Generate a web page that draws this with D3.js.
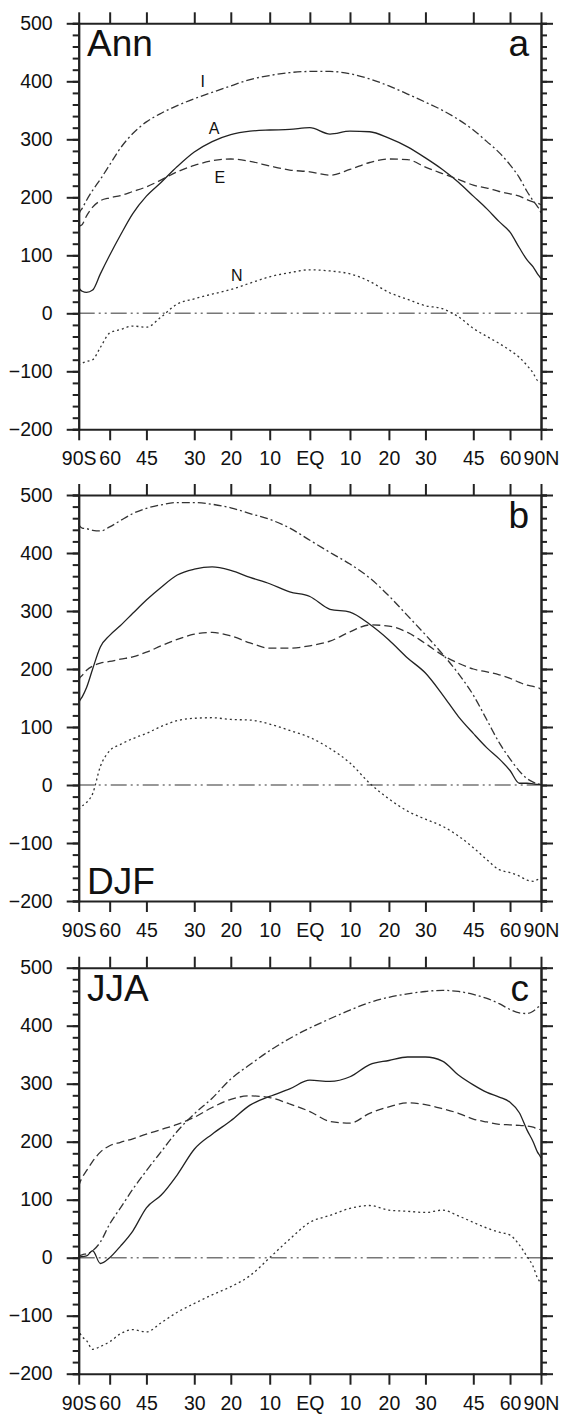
<!DOCTYPE html>
<html>
<head>
<meta charset="utf-8">
<script src="https://cdn.jsdelivr.net/npm/d3@7"></script>
<style>
body { margin: 0; background: #fff; }
text { font-family: "Liberation Sans", Arial, sans-serif; fill: #111; }
</style>
</head>
<body>
<div id="graph"></div>
<script>
// latitude grid (degrees), every curve below is sampled on it
const lats = [-90,-85,-80,-75,-70,-65,-60,-55,-50,-45,-40,-35,-30,-25,-20,-15,-10,-5,0,
              5,10,15,20,25,30,35,40,45,50,55,60,65,70,75,80,85,90];

// panel a : annual mean
const annI = [170,174,181,195,212,231,256,285,310,330,345,358,370,381,392,403,410,415,417,417,413,404,392,378,364,350,334,316,296,277,256,234,210,194,184,177,172];
const annA = [55,42,38,36,40,68,100,135,172,202,226,253,278,296,308,314,316,317,320,309,314,313,302,287,268,248,226,202,180,158,140,113,92,80,68,62,60];
const annE = [148,150,153,168,183,194,199,203,210,218,230,244,255,263,266,262,254,247,244,238,248,260,266,265,252,241,231,221,216,210,206,202,196,192,190,188,187];
const annN = [-90,-88,-86,-83,-80,-59,-34,-28,-22,-24,-6,16,25,33,41,52,63,70,75,73,68,55,36,24,13,8,-6,-26,-40,-52,-64,-76,-90,-103,-116,-118,-120];

// panel b : DJF
const djfI = [451,447,443,442,439,438,445,456,468,477,483,487,487,484,478,468,458,443,422,401,381,357,326,292,259,226,192,155,112,73,45,24,11,5,2,1,0];
const djfA = [142,145,152,168,200,238,258,275,296,319,341,362,372,376,370,358,347,333,325,303,298,277,250,219,193,156,118,89,64,45,25,3,3,2,1,1,0];
const djfE = [180,184,189,198,205,210,213,217,221,229,240,251,260,263,257,245,236,236,240,248,264,276,274,263,244,224,210,200,195,190,184,177,172,170,168,166,164];
const djfN = [-42,-40,-36,-30,-15,32,59,70,80,89,101,111,115,116,113,112,105,94,82,63,38,3,-24,-45,-59,-71,-88,-108,-129,-146,-151,-157,-164,-166,-163,-161,-160];

// panel c : JJA
const jjaI = [2,3,5,7,12,27,58,86,118,150,183,218,248,275,308,333,357,378,396,412,427,440,449,455,459,461,459,454,447,438,428,422,421,425,431,436,440];
const jjaA = [0,1,2,3,12,-10,0,20,46,86,108,143,187,213,236,263,278,291,306,304,312,333,340,346,346,339,315,298,285,277,268,250,220,200,182,175,172];
const jjaE = [122,128,138,150,166,182,193,199,205,213,221,230,242,259,273,279,276,265,252,235,232,249,260,267,264,257,249,239,234,230,229,228,227,225,222,221,220];
const jjaN = [-122,-128,-136,-143,-158,-153,-145,-131,-124,-128,-112,-94,-79,-64,-50,-31,0,32,61,73,85,90,82,80,78,82,72,61,51,44,39,22,2,-15,-35,-42,-44];

const xTicks = [-90,-60,-45,-30,-20,-10,0,10,20,30,45,60,90];
const xTickLabels = ["90S","60","45","30","20","10","EQ","10","20","30","45","60","90N"];
const yTicks = [-200,-100,0,100,200,300,400,500];
const seriesNames = ["I","A","E","N"];

const w = 564, h = 1414;
const left = 78.7, right = 541, ph = 406;

const panels = [
  { top: 23.3,  data: [annI, annA, annE, annN], name: "Ann", tag: "a", nameY: 33, lineLabels: true },
  { top: 495,   data: [djfI, djfA, djfE, djfN], name: "DJF", tag: "b", nameY: 399, lineLabels: false },
  { top: 967.7, data: [jjaI, jjaA, jjaE, jjaN], name: "JJA", tag: "c", nameY: 33, lineLabels: false }
];

const dashes = ["8,3,2,3", null, "8,4", "2,3"];
// where the series letters sit in panel a (lat, value)
const labelSpots = [[-27.6, 391], [-24.5, 310], [-22.9, 224], [-18.4, 56]];

const rad = d => Math.sin(d * Math.PI / 180);
const xScale = d3.scaleLinear().domain([-1, 1]).range([left, right]);

const svg = d3.select("#graph")
              .append("svg")
              .attr("width", w)
              .attr("height", h);

panels.forEach(p => {
  const yScale = d3.scaleLinear()
                   .domain([-200, 500])
                   .range([p.top + ph, p.top]);

  const g = svg.append("g");

  // zero line
  g.append("line")
   .attr("x1", left).attr("x2", right)
   .attr("y1", yScale(0)).attr("y2", yScale(0))
   .attr("stroke", "#777")
   .attr("stroke-width", 1.6)
   .attr("stroke-dasharray", "16,4,2,4,2,4");

  const line = d3.line()
                 .x((d, i) => xScale(rad(lats[i])))
                 .y(d => yScale(d))
                 .curve(d3.curveMonotoneX);

  p.data.forEach((s, k) => {
    g.append("path")
     .datum(s)
     .attr("d", line)
     .attr("fill", "none")
     .attr("stroke", k == 1 ? "#222" : "#333")
     .attr("stroke-width", 1.3)
     .attr("stroke-dasharray", dashes[k]);
  });

  if (p.lineLabels) {
    seriesNames.forEach((n, k) => {
      g.append("text")
       .attr("x", xScale(rad(labelSpots[k][0])))
       .attr("y", yScale(labelSpots[k][1]))
       .attr("text-anchor", "middle")
       .style("font-size", "16px")
       .text(n);
    });
  }

  // axes
  const xAxisB = d3.axisBottom(xScale)
                   .tickValues(xTicks.map(rad))
                   .tickSize(11).tickSizeOuter(0).tickPadding(11)
                   .tickFormat((d, i) => xTickLabels[i]);
  const xAxisT = d3.axisTop(xScale)
                   .tickValues(xTicks.map(rad))
                   .tickSize(11).tickSizeOuter(0)
                   .tickFormat("");
  const yAxisL = d3.axisLeft(yScale).tickValues(yTicks).tickSize(12).tickSizeOuter(0).tickPadding(14);
  const yMinL = d3.axisLeft(yScale).tickValues(d3.range(-200, 501, 20)).tickSize(6).tickFormat("");
  const yAxisR = d3.axisRight(yScale).tickValues(yTicks).tickSize(12).tickSizeOuter(0).tickFormat("");
  const yMinR = d3.axisRight(yScale).tickValues(d3.range(-200, 501, 20)).tickSize(6).tickFormat("");

  g.append("g").attr("class", "xb").attr("transform", "translate(0," + (p.top + ph) + ")").call(xAxisB);
  g.append("g").attr("transform", "translate(0," + p.top + ")").call(xAxisT);
  g.append("g").attr("transform", "translate(" + left + ",0)").call(yMinL);
  g.append("g").attr("class", "yl").attr("transform", "translate(" + left + ",0)").call(yAxisL);
  g.append("g").attr("transform", "translate(" + right + ",0)").call(yMinR);
  g.append("g").attr("transform", "translate(" + right + ",0)").call(yAxisR);

  g.selectAll(".domain, .tick line")
   .attr("stroke", "#222")
   .attr("stroke-width", 2);
  g.selectAll(".tick text")
   .attr("fill", "#111")
   .style("font-family", "'Liberation Sans', Arial, sans-serif");
  g.selectAll(".xb .tick text").style("font-size", "19.5px");
  g.selectAll(".yl .tick text").style("font-size", "19.5px");

  // panel titles
  g.append("text")
   .attr("x", 87)
   .attr("y", p.top + p.nameY)
   .style("font-size", "37px")
   .text(p.name);

  g.append("text")
   .attr("x", 529)
   .attr("y", p.top + 33)
   .attr("text-anchor", "end")
   .style("font-size", "37px")
   .text(p.tag);
});
</script>
</body>
</html>
